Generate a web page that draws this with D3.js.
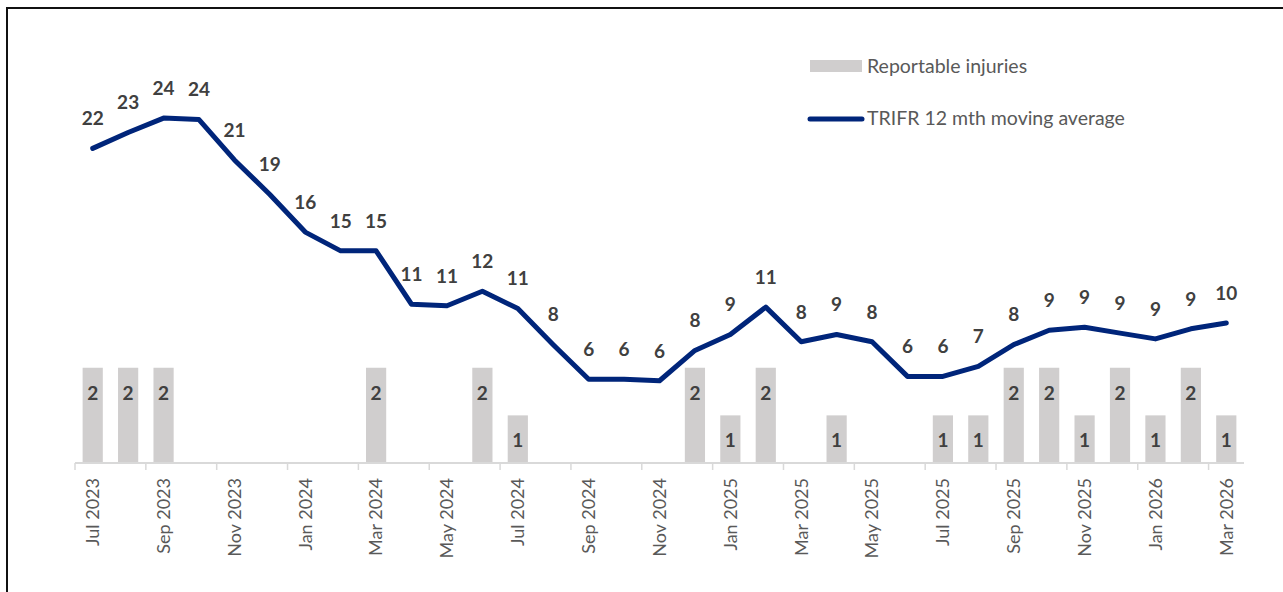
<!DOCTYPE html>
<html>
<head>
<meta charset="utf-8">
<script src="https://cdn.jsdelivr.net/npm/d3@7"></script>
<style>
  html, body { margin: 0; padding: 0; background: #fff; overflow: hidden; }
  svg { display: block; font-family: Lato, "Open Sans", sans-serif; }
</style>
</head>
<body>
<div id="chart"></div>
<script>
// months on the x axis
const months = [
  "Jul 2023","Aug 2023","Sep 2023","Oct 2023","Nov 2023","Dec 2023",
  "Jan 2024","Feb 2024","Mar 2024","Apr 2024","May 2024","Jun 2024",
  "Jul 2024","Aug 2024","Sep 2024","Oct 2024","Nov 2024","Dec 2024",
  "Jan 2025","Feb 2025","Mar 2025","Apr 2025","May 2025","Jun 2025",
  "Jul 2025","Aug 2025","Sep 2025","Oct 2025","Nov 2025","Dec 2025",
  "Jan 2026","Feb 2026","Mar 2026"
];
// reportable injuries per month (bars)
const injuries = [
  2,2,2,0,0,0,
  0,0,2,0,0,2,
  1,0,0,0,0,2,
  1,2,0,1,0,0,
  1,1,2,2,1,2,
  1,2,1
];
// TRIFR 12 mth moving average (line)
const trifr = [
  21.8,22.9,23.9,23.8,21.0,18.6,
  16.0,14.7,14.7,11.0,10.9,11.9,
  10.7,8.2,5.8,5.8,5.7,7.8,
  8.9,10.8,8.4,8.9,8.4,6.0,
  6.0,6.7,8.2,9.2,9.4,9.0,
  8.6,9.3,9.7
];
const seriesNames = ["Reportable injuries", "TRIFR 12 mth moving average"];

const width = 1283, height = 592;
const plot = { left: 75, right: 1244, bottom: 463, top: 82 };

const svg = d3.select("#chart").append("svg")
  .attr("width", width)
  .attr("height", height);

// outer frame (right / bottom edges run off the picture)
svg.append("rect")
  .attr("x", 7).attr("y", 8)
  .attr("width", width + 20).attr("height", height + 20)
  .attr("fill", "none")
  .attr("stroke", "#111")
  .attr("stroke-width", 2);

const data = months.map((m, i) => ({ month: m, inj: injuries[i], rate: trifr[i] }));

// scales
const x = d3.scaleBand().domain(months).range([plot.left, plot.right]).padding(0);
const yBar = d3.scaleLinear().domain([0, 8]).range([plot.bottom, plot.top]);
const yLine = d3.scaleLinear().domain([0, 26.4]).range([plot.bottom, plot.top]);
const cx = d => x(d) + x.bandwidth() / 2;
const barW = x.bandwidth() * 0.57;

// bars
const barData = data.filter(d => d.inj > 0);
svg.append("g").selectAll("rect")
  .data(barData)
  .join("rect")
  .attr("x", d => cx(d.month) - barW / 2)
  .attr("y", d => yBar(d.inj))
  .attr("width", barW)
  .attr("height", d => plot.bottom - yBar(d.inj))
  .attr("fill", "#d0cece");

svg.append("g").selectAll("text")
  .data(barData)
  .join("text")
  .attr("x", d => cx(d.month))
  .attr("y", d => yBar(d.inj) + 25)
  .attr("dy", "0.36em")
  .attr("text-anchor", "middle")
  .attr("font-size", "19px")
  .attr("font-weight", "bold")
  .attr("fill", "#404040")
  .text(d => d.inj);

// x axis: labels every other month at band centre, ticks on band edges
const xAxis = d3.axisBottom(x)
  .tickValues(months.filter((d, i) => i % 2 === 0))
  .tickSize(0)
  .tickPadding(0);

const gx = svg.append("g")
  .attr("transform", `translate(0, ${plot.bottom})`)
  .call(xAxis);
gx.select(".domain").remove();
gx.selectAll("text")
  .attr("transform", "rotate(-90)")
  .attr("text-anchor", "end")
  .attr("x", -15)
  .attr("y", 0)
  .attr("dy", "0.35em")
  .attr("font-family", "Lato, 'Open Sans', sans-serif")
  .attr("font-size", "18px")
  .attr("fill", "#595959");

svg.append("line")
  .attr("x1", plot.left).attr("x2", plot.right)
  .attr("y1", plot.bottom).attr("y2", plot.bottom)
  .attr("stroke", "#d9d9d9")
  .attr("stroke-width", 2);

svg.append("g").selectAll("line")
  .data(months.filter((d, i) => i % 2 === 0))
  .join("line")
  .attr("x1", d => x(d)).attr("x2", d => x(d))
  .attr("y1", plot.bottom).attr("y2", plot.bottom + 7)
  .attr("stroke", "#d9d9d9")
  .attr("stroke-width", 1.5);

// TRIFR line
const line = d3.line()
  .x(d => cx(d.month))
  .y(d => yLine(d.rate));

svg.append("path")
  .datum(data)
  .attr("d", line)
  .attr("fill", "none")
  .attr("stroke", "#00257a")
  .attr("stroke-width", 5)
  .attr("stroke-linejoin", "round")
  .attr("stroke-linecap", "round");

svg.append("g").selectAll("text")
  .data(data)
  .join("text")
  .attr("x", d => cx(d.month))
  .attr("y", d => yLine(d.rate) - 30)
  .attr("dy", "0.36em")
  .attr("text-anchor", "middle")
  .attr("font-size", "19px")
  .attr("font-weight", "bold")
  .attr("fill", "#404040")
  .text(d => d3.format(".0f")(d.rate));

// legend
const legend = svg.append("g").attr("transform", "translate(808, 0)");
legend.append("rect")
  .attr("x", 2).attr("y", 60)
  .attr("width", 52).attr("height", 12)
  .attr("fill", "#d0cece");
legend.append("line")
  .attr("x1", 2).attr("x2", 54)
  .attr("y1", 119).attr("y2", 119)
  .attr("stroke", "#00257a")
  .attr("stroke-width", 5)
  .attr("stroke-linecap", "round");
legend.selectAll("text.lg")
  .data(seriesNames)
  .join("text")
  .attr("class", "lg")
  .attr("x", 59)
  .attr("y", (d, i) => i === 0 ? 66 : 118)
  .attr("dy", "0.36em")
  .attr("font-size", "19.5px")
  .attr("fill", "#595959")
  .text(d => d);
</script>
</body>
</html>
